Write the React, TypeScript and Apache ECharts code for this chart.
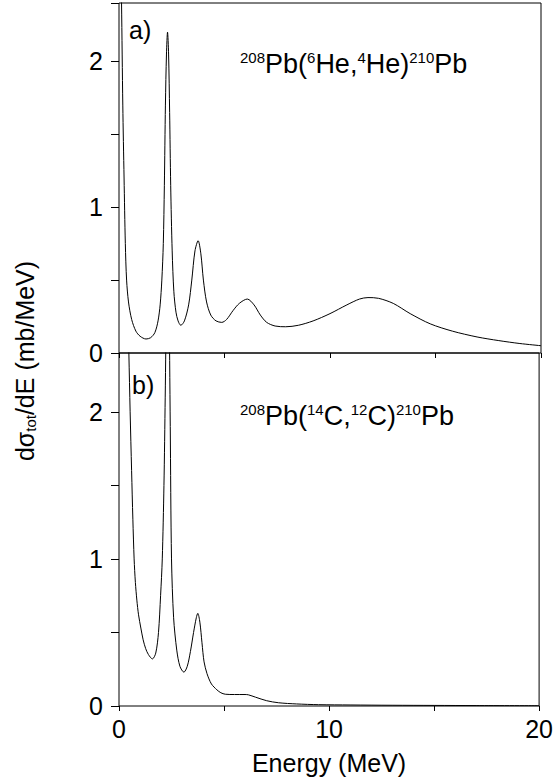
import React, { useEffect, useRef } from "react";
import * as echarts from "echarts";

// Panel a) 208Pb(6He,4He)210Pb
const energyA = [0.05, 0.12, 0.18, 0.24, 0.3, 0.36, 0.45, 0.6, 0.8, 1.0, 1.28, 1.5, 1.7, 1.85, 1.95, 2.03, 2.1, 2.15, 2.2, 2.25, 2.3, 2.35, 2.4, 2.45, 2.52, 2.6, 2.7, 2.8, 2.93, 3.1, 3.3, 3.45, 3.6, 3.75, 3.88, 4.0, 4.15, 4.35, 4.6, 4.87, 5.1, 5.4, 5.7, 6.08, 6.4, 6.7, 7.0, 7.4, 7.9, 8.5, 9.2, 10.0, 10.8, 11.4, 11.8, 12.3, 13.0, 13.8, 14.75, 15.8, 16.97, 18.0, 19.0, 20.0];
const sigmaA = [3.0, 2.4, 1.7, 1.2, 0.75, 0.5, 0.35, 0.23, 0.15, 0.115, 0.096, 0.105, 0.14, 0.22, 0.33, 0.5, 0.75, 1.15, 1.7, 2.05, 2.2, 2.05, 1.65, 1.15, 0.7, 0.42, 0.28, 0.22, 0.19, 0.22, 0.33, 0.5, 0.7, 0.77, 0.68, 0.5, 0.35, 0.26, 0.22, 0.21, 0.23, 0.29, 0.34, 0.37, 0.33, 0.26, 0.21, 0.185, 0.18, 0.19, 0.22, 0.27, 0.33, 0.37, 0.38, 0.375, 0.34, 0.27, 0.2, 0.15, 0.11, 0.085, 0.065, 0.05];

// Panel b) 208Pb(14C,12C)210Pb
const energyB = [0.3, 0.4, 0.47, 0.53, 0.6, 0.66, 0.72, 0.78, 0.85, 0.93, 1.04, 1.15, 1.27, 1.4, 1.59, 1.75, 1.88, 1.98, 2.06, 2.14, 2.2, 2.26, 2.32, 2.38, 2.44, 2.5, 2.6, 2.75, 2.9, 3.09, 3.25, 3.4, 3.55, 3.68, 3.75, 3.85, 3.95, 4.05, 4.19, 4.4, 4.66, 4.85, 5.06, 5.5, 6.0, 6.16, 6.5, 7.03, 7.6, 8.45, 9.5, 11, 13, 15, 17, 20];
const sigmaB = [3.5, 2.9, 2.4, 2.0, 1.6, 1.27, 1.0, 0.84, 0.72, 0.62, 0.53, 0.45, 0.39, 0.35, 0.32, 0.36, 0.5, 0.75, 1.0, 1.5, 2.1, 2.8, 3.2, 2.8, 1.9, 1.0, 0.6, 0.38, 0.27, 0.23, 0.27, 0.37, 0.5, 0.6, 0.63, 0.57, 0.43, 0.3, 0.22, 0.15, 0.11, 0.09, 0.08, 0.078, 0.078, 0.076, 0.06, 0.036, 0.022, 0.014, 0.009, 0.007, 0.005, 0.004, 0.003, 0.002];

const xLabelsShown = [0, 10, 20];
const yLabelsShown = [0, 1, 2];

const FONT = "Liberation Sans, Arial, sans-serif";

export default function App() {
  const ref = useRef<HTMLDivElement>(null);
  useEffect(() => {
    document.body.style.margin = "0";
    if (!ref.current) return;
    const chart = echarts.init(ref.current, null, { renderer: "svg" });
    const gridA = { left: 119, top: 3, width: 422, height: 350 };
    const gridB = { left: 119, top: 353, width: 422, height: 353 };
    const baseX = { type: "value", min: 0, max: 20, splitLine: { show: false }, axisLine: { show: false } };
    const baseY = { type: "value", min: 0, max: 2.4, splitLine: { show: false }, axisLine: { show: false } };
    const topTicks = { show: true, inside: true, length: 5, lineStyle: { color: "#000", width: 1 } };
    const rightTicks = { show: true, inside: true, length: 8, lineStyle: { color: "#000", width: 1 } };
    const yLabel = {
      show: true, color: "#000", fontSize: 25, fontFamily: FONT, margin: 16,
      formatter: (v: number) => (yLabelsShown.includes(v) ? String(v) : ""),
    };
    const sup = { fontSize: 15, fontFamily: FONT, color: "#000", verticalAlign: "top", lineHeight: 15 };
    const nrm = { fontSize: 27, fontFamily: FONT, color: "#000", lineHeight: 27 };
    const option: any = {
      animation: false,
      grid: [
        { ...gridA, show: true, borderColor: "#000", borderWidth: 1, backgroundColor: "transparent" },
        { ...gridB, show: true, borderColor: "#000", borderWidth: 1, backgroundColor: "transparent" },
      ],
      xAxis: [
        { ...baseX, gridIndex: 0, position: "bottom", axisTick: { show: false }, axisLabel: { show: false } },
        { ...baseX, gridIndex: 0, position: "top", interval: 5, axisTick: topTicks, axisLabel: { show: false } },
        {
          ...baseX, gridIndex: 1, position: "bottom", interval: 10, axisTick: { show: false },
          axisLabel: { show: true, color: "#000", fontSize: 25, fontFamily: FONT, margin: 10,
            formatter: (v: number) => (xLabelsShown.includes(v) ? String(v) : "") },
          name: "Energy (MeV)", nameLocation: "middle", nameGap: 44,
          nameTextStyle: { color: "#000", fontSize: 25, fontFamily: FONT },
        },
        { ...baseX, gridIndex: 1, position: "top", interval: 5, axisTick: topTicks, axisLabel: { show: false } },
      ],
      yAxis: [
        { ...baseY, gridIndex: 0, position: "left", interval: 1, axisTick: { show: false }, axisLabel: yLabel },
        { ...baseY, gridIndex: 0, position: "right", interval: 0.5, axisTick: rightTicks, axisLabel: { show: false } },
        { ...baseY, gridIndex: 1, position: "left", interval: 1, axisTick: { show: false }, axisLabel: yLabel },
        { ...baseY, gridIndex: 1, position: "right", interval: 0.5, axisTick: rightTicks, axisLabel: { show: false } },
      ],
      series: [
        {
          type: "line", xAxisIndex: 0, yAxisIndex: 0, showSymbol: false, smooth: 0.3, clip: true,
          lineStyle: { color: "#000", width: 1 },
          data: energyA.map((e, i) => [e, sigmaA[i]]),
        },
        {
          type: "line", xAxisIndex: 2, yAxisIndex: 2, showSymbol: false, smooth: 0.3, clip: true,
          lineStyle: { color: "#000", width: 1 },
          data: energyB.map((e, i) => [e, sigmaB[i]]),
        },
      ],
      graphic: [
        { type: "text", left: 129, top: 17, style: { text: "a)", fontSize: 25, fontFamily: FONT, fill: "#000" } },
        { type: "text", left: 132, top: 372, style: { text: "b)", fontSize: 25, fontFamily: FONT, fill: "#000" } },
        {
          type: "text", x: 240, y: 50,
          style: {
            text: "{s|208}{n|Pb(}{s|6}{n|He,}{s|4}{n|He)}{s|210}{n|Pb}",
            rich: { s: sup, n: nrm },
          },
        },
        {
          type: "text", x: 240, y: 402,
          style: {
            text: "{s|208}{n|Pb(}{s|14}{n|C,}{s|12}{n|C)}{s|210}{n|Pb}",
            rich: { s: sup, n: nrm },
          },
        },
        {
          type: "text", x: 25, y: 361, rotation: Math.PI / 2,
          style: {
            text: "{n|dσ}{b|tot}{n|/dE (mb/MeV)}",
            align: "center", verticalAlign: "middle",
            rich: {
              n: { fontSize: 25, fontFamily: FONT, color: "#000", lineHeight: 25 },
              b: { fontSize: 15, fontFamily: FONT, color: "#000", verticalAlign: "bottom", lineHeight: 15 },
            },
          },
        },
      ],
    };
    chart.setOption(option);
    return () => chart.dispose();
  }, []);
  return <div ref={ref} style={{ width: 556, height: 783 }} />;
}
